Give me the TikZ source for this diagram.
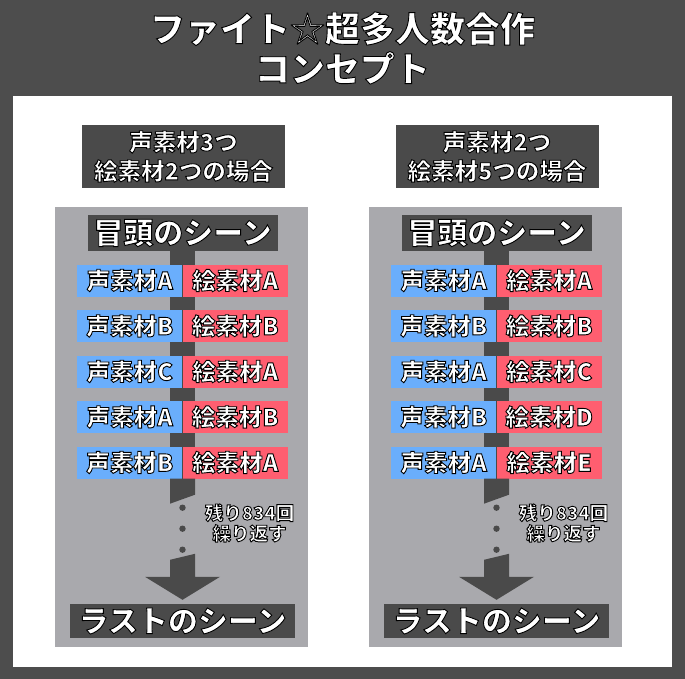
\documentclass[tikz,border=0pt]{standalone}
\usepackage{fontspec}
\setmainfont{Noto Sans CJK JP}[BoldFont={Noto Sans CJK JP Black}]
\usepackage{xcolor}
\usetikzlibrary{calc,backgrounds}

% white text with a thin black outline (fill + stroke render mode)
\newcommand{\olt}[1]{\special{pdf:literal direct 2 Tr 0.9 w 0 G}#1\special{pdf:literal direct 0 Tr}}

\definecolor{bgdark}{HTML}{4D4D4D}
\definecolor{boxdark}{HTML}{4A4A4A}
\definecolor{panelgray}{HTML}{A9A9AD}
\definecolor{sndblue}{HTML}{6AAEFC}
\definecolor{picred}{HTML}{FF5E70}

\newcommand{\titlefont}{\fontsize{35}{40}\selectfont\bfseries}
\newcommand{\headfont}{\fontsize{23.5}{29}\selectfont\bfseries}
\newcommand{\scenefont}{\fontsize{30}{34}\selectfont\bfseries}
\newcommand{\rowfont}{\fontsize{23.5}{26}\selectfont\bfseries}
\newcommand{\notefont}{\fontsize{18.5}{20.5}\selectfont\bfseries}

\begin{document}
\begin{tikzpicture}[x=1pt,y=-1pt,
  darkbox/.style={fill=boxdark,text=white,inner sep=0pt,align=center},
  sndbox/.style={fill=sndblue,text=white,inner sep=0pt,minimum width=105pt,minimum height=32pt,anchor=east,font=\rowfont},
  picbox/.style={fill=picred,text=white,inner sep=0pt,minimum width=105pt,minimum height=32pt,anchor=west,font=\rowfont},
  stem/.style={draw=boxdark,line width=25pt}]
  \useasboundingbox (0,0) rectangle (685,679);
  \begin{scope}[on background layer]
    \fill[bgdark] (0,0) rectangle (685,679);
    \fill[white] (13,96) rectangle (672,667);
    % two gray columns
    \foreach \cx in {182.5,496.5}{
      \fill[panelgray] (\cx-128,207) rectangle (\cx+125,647);}
  \end{scope}
  \node[text=white,align=center,font=\titlefont] (title) at (342.5,48) {\olt{ファイト☆超多人数合作}\\\olt{コンセプト}};
  \node[darkbox,minimum width=203pt,minimum height=63pt,font=\headfont] (hdL) at (183.5,156.5) {\olt{声素材3つ}\\\olt{絵素材2つの場合}};
  \node[darkbox,minimum width=203pt,minimum height=63pt,font=\headfont] (hdR) at (497,156.5) {\olt{声素材2つ}\\\olt{絵素材5つの場合}};
  % rows: voice / picture, left and right
  \foreach \i/\sl/\pl/\sr/\pr in {1/A/A/A/A, 2/B/B/B/B, 3/C/A/A/C, 4/A/B/B/D, 5/B/A/A/E}{
    \node[sndbox] (sL\i) at (182.5,{280.5+(\i-1)*45.5}) {\olt{声素材\sl}};
    \node[picbox] (pL\i) at (182.5,{280.5+(\i-1)*45.5}) {\olt{絵素材\pl}};
    \node[sndbox] (sR\i) at (496.5,{280.5+(\i-1)*45.5}) {\olt{声素材\sr}};
    \node[picbox] (pR\i) at (496.5,{280.5+(\i-1)*45.5}) {\olt{絵素材\pr}};}
  \foreach \k/\cx in {L/182.5,R/496.5}{
    \node[darkbox,minimum width=190pt,minimum height=36pt,font=\scenefont] (top\k) at (\cx,233) {\olt{冒頭のシーン}};
    \node[darkbox,minimum width=225pt,minimum height=34pt,font=\scenefont] (last\k) at (\cx,621) {\olt{ラストのシーン}};
    \node[text=white,align=center,font=\notefont] (note\k) at ({\cx+67},523) {\olt{残り834回}\\\olt{繰り返す}};
    \begin{scope}[on background layer]
      \draw[stem] (top\k.south) -- (s\k5.south east);
    \end{scope}
    \fill[boxdark] ([xshift=-12.5pt]s\k5.south east) -- ++(0,25) -- ++(25,-9) -- ++(0,-16) -- cycle;
    \foreach \d in {29,50,71}
      \fill[boxdark] ($(s\k5.south east)+(0,\d)$) circle[radius=3.2pt];
    \fill[boxdark] ([yshift=4pt]last\k.north) -- ++(-37.5,-23) -- ++(25,0) -- ++(0,-17) -- ++(25,-6) -- ++(0,23) -- ++(25,0) -- cycle;
  }
\end{tikzpicture}
\end{document}
